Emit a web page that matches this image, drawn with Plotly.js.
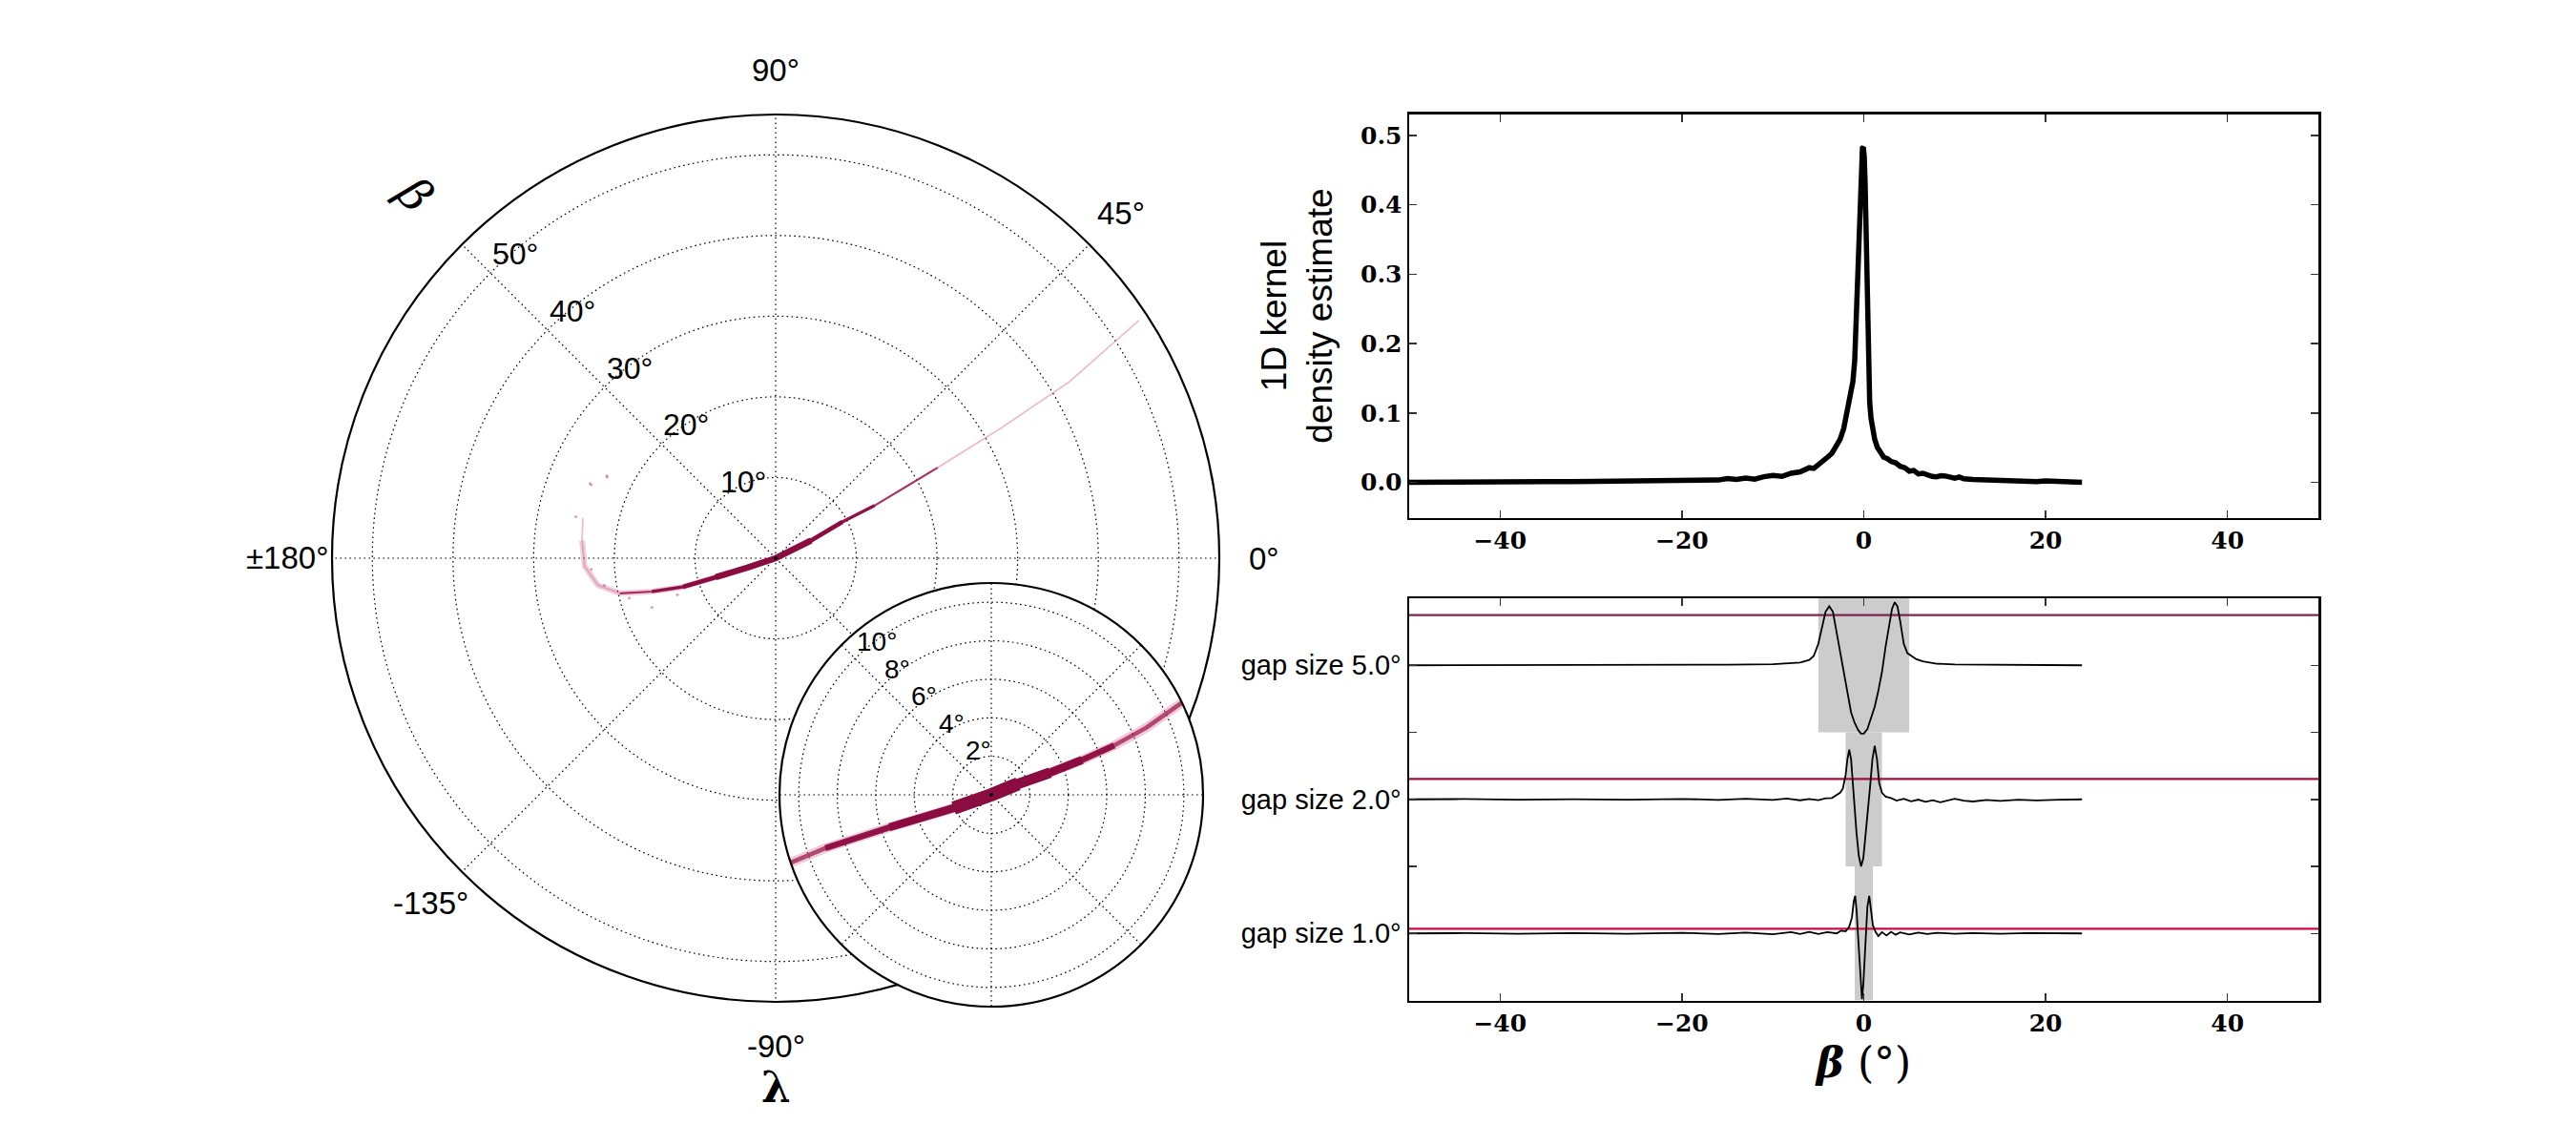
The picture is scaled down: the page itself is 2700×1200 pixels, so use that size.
<!DOCTYPE html>
<html><head><meta charset="utf-8">
<script src="https://cdn.plot.ly/plotly-3.0.1.min.js"></script>
<style>html,body{margin:0;padding:0;background:#fff}</style>
</head><body><div id="chart" style="width:2700px;height:1200px"></div>
<script>
// ---------------- DATA ----------------
// Main polar stream: path of the stream (beta in degrees as radius, lambda as angle)
const mainPathR     = [53.8, 42.5, 32.4, 23.0, 13.9, 9.4, 4.9, 0, 3.7, 7.8, 12.0, 15.9, 19.8, 22.3, 23.7, 24.1, 24.4];
const mainPathTheta = [33.2, 31.0, 30.0, 29.2, 28.0, 28.5, 26.5, 0, -161.6, -162.4, -162.8, -164.9, -167.3, -171.4, -177.6, 174.8, 168.3];
// sparse stray points near the stream tail
const mainDustR     = [24.8, 23.2, 25.3, 22.9, 21.5, 18.8, 16.5, 13.0, 23.3, 24.6];
const mainDustTheta = [158.1, 154.3, 168.3, -176.5, -171.0, -164.8, -158.3, -159.6, 154.0, 158.3];
// Inset (zoomed) polar stream
const insetPathR     = [11.0, 8.77, 6.88, 5.05, 3.26, 1.5, 0, 2.07, 5.55, 9.05, 11.0];
const insetPathTheta = [25.8, 23.4, 21.9, 21.0, 20.7, 22.2, 0, -160.6, -162.3, -162.2, -161.3];

// Polar tick labels
const angLabelVals = [0, 45, 90, 180, -135, -90];
const angLabelText = ['0°', '45°', '90°', '±180°', '-135°', '-90°'];
const angGridVals = [0, 45, 90, 135, 180, 225, 270, 315];
const mainRadTicks = [10, 20, 30, 40, 50];
const insetRadTicks = [2, 4, 6, 8, 10];

// Top-right panel: 1D kernel density estimate
const kdeX = [-50,-47,-44,-41,-38,-35,-32,-29,-27,-25,-23,-21,-20,-19,-18,-17,-16,-15,-14,-13,-12,-11,-10,-9,-8,-7,-6,-5.5,-5,-4.5,-4,-3.5,-3,-2.6,-2.2,-1.9,-1.6,-1.4,-1.2,-1.0,-0.8,-0.6,-0.45,-0.3,-0.15,-0.05,0.05,0.15,0.25,0.35,0.45,0.55,0.65,0.8,1.0,1.2,1.5,1.8,2.2,2.6,3.0,3.5,4.0,4.5,5.0,5.5,6.0,6.5,7.0,7.5,8.0,8.5,9.0,9.5,10,10.5,11,12,13,14,15,16,17,18,19,20,21,22,23,24];
const kdeY = [0.000,0.0005,0.000,0.0008,0.0003,0.001,0.0008,0.0015,0.001,0.0022,0.0015,0.0028,0.002,0.0035,0.0025,0.004,0.0032,0.0055,0.004,0.0062,0.0045,0.008,0.010,0.0085,0.013,0.015,0.021,0.020,0.025,0.029,0.036,0.042,0.052,0.062,0.078,0.098,0.112,0.125,0.145,0.175,0.25,0.35,0.41,0.455,0.482,0.483,0.47,0.43,0.36,0.28,0.20,0.145,0.115,0.092,0.075,0.062,0.050,0.043,0.036,0.034,0.030,0.028,0.023,0.021,0.016,0.017,0.012,0.013,0.010,0.0085,0.008,0.0095,0.009,0.0065,0.006,0.0075,0.005,0.004,0.0035,0.003,0.0022,0.0015,0.0025,0.002,0.001,0.0018,0.001,0.0012,0.0006,0.000];
const kdeTicksY = [0.0, 0.1, 0.2, 0.3, 0.4, 0.5];
const betaTicks = [-40, -20, 0, 20, 40];

// Bottom-right panel: gap curves (stacked levels)
const gapSizes = [5.0, 2.0, 1.0];
const gapBaselines = [2, 1, 0];
const gapThresholds = [2.374, 1.152, 0.035];
const gapThresholdColors = ['#7e2456', '#a10d40', '#d3073f'];
const gap5X = [-50,-40,-30,-20,-15,-10,-8,-7,-6,-5.5,-5,-4.6,-4.2,-3.8,-3.4,-3.0,-2.6,-2.2,-1.8,-1.4,-1.0,-0.6,-0.3,0,0.4,0.8,1.2,1.6,2.0,2.4,2.8,3.1,3.4,3.7,4.0,4.4,4.8,5.2,5.8,6.5,8,10,14,18,24];
const gap5Y = [2.0,2.0,2.002,2.003,2.005,2.008,2.014,2.02,2.04,2.07,2.16,2.28,2.40,2.44,2.40,2.25,2.10,1.93,1.78,1.65,1.57,1.515,1.49,1.49,1.525,1.60,1.69,1.81,1.95,2.14,2.32,2.42,2.47,2.44,2.33,2.16,2.09,2.07,2.045,2.03,2.012,2.006,2.004,2.001,2.0];
const gap2X = [-50,-44,-38,-32,-26,-20,-16,-13,-10,-8.5,-7,-6,-5,-4.2,-3.5,-3.0,-2.6,-2.3,-2.0,-1.8,-1.6,-1.4,-1.2,-1.0,-0.8,-0.55,-0.3,-0.05,0.2,0.45,0.7,0.95,1.2,1.45,1.7,2.0,2.4,3.0,3.6,4.4,5.2,6.0,6.8,7.6,8.4,9.2,10,11,12,13.5,15,17,19,21.5,24];
const gap2Y = [1.0,1.002,0.998,1.001,0.997,1.003,0.996,1.004,0.995,1.006,0.993,1.002,0.994,1.008,1.01,1.03,1.05,1.08,1.18,1.30,1.37,1.30,1.10,0.92,0.75,0.58,0.50,0.56,0.72,0.92,1.10,1.30,1.40,1.30,1.12,1.05,1.02,1.01,0.99,1.004,0.985,0.998,0.982,0.993,0.978,0.99,1.005,0.99,0.984,0.996,0.988,0.997,0.992,0.998,1.0];
const gap1X = [-50,-44,-38,-32,-26,-20,-16,-13,-10,-8,-7,-6,-5,-4,-3,-2.5,-2,-1.6,-1.3,-1.1,-0.95,-0.8,-0.6,-0.45,-0.3,-0.2,-0.05,0.1,0.25,0.4,0.6,0.8,1.0,1.3,1.6,2.0,2.5,3.0,3.5,4.0,5,6,7,8,10,12,15,18,21,24];
const gap1Y = [0.0,0.002,-0.002,0.003,-0.003,0.004,-0.004,0.006,-0.006,0.01,-0.005,0.012,-0.004,0.01,0.0,0.02,0.015,0.05,0.12,0.24,0.28,0.18,-0.05,-0.25,-0.42,-0.49,-0.38,-0.15,0.05,0.2,0.28,0.18,0.06,0.01,-0.02,0.01,-0.015,0.012,-0.01,0.008,-0.008,0.006,-0.004,0.005,-0.003,0.003,-0.002,0.002,-0.001,0.0];

// ---------------- GEOMETRY / STYLE ----------------
const W = 2700, H = 1200;
const MAIN  = {cx: 813,  cy: 585, R: 465, rmax: 55};
const INSET = {cx: 1039, cy: 833, R: 222, rmax: 11};
function dom(g){ return {x:[(g.cx-g.R)/W, (g.cx+g.R)/W], y:[1-(g.cy+g.R)/H, 1-(g.cy-g.R)/H]}; }
function toPaper(g, r, th){ const a = th*Math.PI/180, pr = r/g.rmax*g.R;
  return {x:(g.cx+pr*Math.cos(a))/W, y:1-(g.cy-pr*Math.sin(a))/H}; }
const gridDash = '1.6px,3.4px';
function polarLayout(g, rticks){
  return {
    domain: dom(g), bgcolor:'#ffffff', hole:0,
    radialaxis:{range:[0,g.rmax], tickmode:'array', tickvals:rticks, showticklabels:false, ticks:'',
      showline:false, gridcolor:'#000', griddash:gridDash, gridwidth:1.2},
    angularaxis:{tickmode:'array', tickvals:angGridVals, showticklabels:false, ticks:'', rotation:0,
      direction:'counterclockwise', showline:true, linecolor:'#000', linewidth:2.2,
      gridcolor:'#000', griddash:gridDash, gridwidth:1.2}
  };
}
const streamDark = '#8a0c40';
const traces = [];
function polarLine(sub, r, th, color, width){
  traces.push({type:'scatterpolar', subplot:sub, mode:'lines', r:r, theta:th, cliponaxis:true,
    line:{color:color, width:width}, hoverinfo:'skip'});
}
// main polar stream (layered widths to mimic the density of the point cloud)
polarLine('polar', mainPathR, mainPathTheta, 'rgba(210,110,150,0.45)', 1.8);
polarLine('polar', mainPathR.slice(9,16), mainPathTheta.slice(9,16), 'rgba(205,95,140,0.3)', 6);
traces.push({type:'scatterpolar', subplot:'polar', mode:'markers', r:mainDustR, theta:mainDustTheta,
  marker:{color:'rgba(200,80,125,0.55)', size:3}, hoverinfo:'skip'});
polarLine('polar', mainPathR.slice(3,13), mainPathTheta.slice(3,13), 'rgba(150,20,70,0.8)', 2.2);
polarLine('polar', mainPathR.slice(4,12), mainPathTheta.slice(4,12), 'rgba(140,12,65,0.9)', 3.4);
polarLine('polar', mainPathR.slice(5,11), mainPathTheta.slice(5,11), streamDark, 4.6);
polarLine('polar', mainPathR.slice(6,10), mainPathTheta.slice(6,10), streamDark, 6.5);
traces.push({type:'scatterpolar', subplot:'polar', mode:'markers', r:[0], theta:[0],
  marker:{color:'#000', size:4}, hoverinfo:'skip'});
// inset polar stream
polarLine('polar2', insetPathR, insetPathTheta, 'rgba(205,95,140,0.32)', 10);
polarLine('polar2', insetPathR, insetPathTheta, 'rgba(160,25,75,0.75)', 4.5);
polarLine('polar2', insetPathR.slice(2,10), insetPathTheta.slice(2,10), 'rgba(140,12,65,0.9)', 6.5);
polarLine('polar2', insetPathR.slice(3,9), insetPathTheta.slice(3,9), streamDark, 8.5);
polarLine('polar2', insetPathR.slice(4,8), insetPathTheta.slice(4,8), streamDark, 11);
polarLine('polar2', insetPathR.slice(5,8), insetPathTheta.slice(5,8), streamDark, 14);
traces.push({type:'scatterpolar', subplot:'polar2', mode:'markers', r:[0], theta:[0],
  marker:{color:'#000', size:4}, hoverinfo:'skip'});
// KDE panel
traces.push({type:'scatter', x:kdeX, y:kdeY, xaxis:'x', yaxis:'y', mode:'lines',
  line:{color:'#000', width:5.5}, hoverinfo:'skip'});
// gap panel
gapThresholds.forEach((lv,i)=>{
  traces.push({type:'scatter', x:[-50,50], y:[lv,lv], xaxis:'x2', yaxis:'y2', mode:'lines',
    line:{color:gapThresholdColors[i], width:2.2}, hoverinfo:'skip'});
});
[[gap5X,gap5Y],[gap2X,gap2Y],[gap1X,gap1Y]].forEach(c=>{
  traces.push({type:'scatter', x:c[0], y:c[1], xaxis:'x2', yaxis:'y2', mode:'lines',
    line:{color:'#000', width:1.8}, hoverinfo:'skip'});
});

// annotations for polar tick labels and axis symbols
const annotations = [];
const sansFont = 'Liberation Sans, Arial, sans-serif';
angLabelVals.forEach((t,i)=>{
  const p = toPaper(MAIN, 1.1*MAIN.rmax, t);
  annotations.push({xref:'paper', yref:'paper', x:p.x, y:p.y, xanchor:'center', yanchor:'middle',
    text:angLabelText[i], showarrow:false, font:{family:sansFont, size:33, color:'#000'}});
});
mainRadTicks.forEach(v=>{
  const p = toPaper(MAIN, v, 135);
  annotations.push({xref:'paper', yref:'paper', x:p.x, y:p.y, xanchor:'left', yanchor:'bottom',
    text:v+'°', showarrow:false, font:{family:sansFont, size:32, color:'#000'}});
});
insetRadTicks.forEach(v=>{
  const p = toPaper(INSET, v, 135);
  annotations.push({xref:'paper', yref:'paper', x:p.x, y:p.y, xanchor:'left', yanchor:'bottom',
    text:v+'°', showarrow:false, font:{family:sansFont, size:28, color:'#000'}});
});
annotations.push({xref:'paper', yref:'paper', x:435/W, y:1-203/H, xanchor:'center', yanchor:'middle',
  text:'<i>β</i>', textangle:48, showarrow:false, font:{family:'DejaVu Serif', size:48, color:'#000'}});
annotations.push({xref:'paper', yref:'paper', x:813/W, y:1-1139/H, xanchor:'center', yanchor:'middle',
  text:'<b>λ</b>', showarrow:false, font:{family:'DejaVu Serif', size:44, color:'#000'}});

const serifTick = {family:'DejaVu Serif', size:25, color:'#000', weight:'bold'};
const axisCommon = {showline:true, linecolor:'#000', linewidth:2.5, mirror:'ticks', ticks:'inside',
  ticklen:8, tickwidth:1.5, tickcolor:'#333', zeroline:false, showgrid:false};
const xDom = [1477/W, 2430/W];
const layout = {
  width:W, height:H, margin:{l:0, r:0, t:0, b:0}, paper_bgcolor:'#fff', plot_bgcolor:'#fff',
  showlegend:false, font:{family:sansFont, color:'#000'},
  polar: polarLayout(MAIN, mainRadTicks),
  polar2: polarLayout(INSET, insetRadTicks),
  xaxis: Object.assign({}, axisCommon, {domain:xDom, anchor:'y', range:[-50,50], tickmode:'array',
    tickvals:betaTicks, tickfont:serifTick}),
  yaxis: Object.assign({}, axisCommon, {domain:[1-542.5/H, 1-119.5/H], anchor:'x', range:[-0.051,0.531],
    tickmode:'array', tickvals:kdeTicksY, tickformat:'.1f', tickfont:serifTick,
    title:{text:'1D kernel<br>density estimate', font:{family:sansFont, size:37, color:'#000'}, standoff:18}}),
  xaxis2: Object.assign({}, axisCommon, {domain:xDom, anchor:'y2', range:[-50,50], tickmode:'array',
    tickvals:betaTicks, tickfont:serifTick,
    title:{text:'<b><i>β</i></b> (°)', font:{family:'DejaVu Serif', size:44, color:'#000'}, standoff:12}}),
  yaxis2: Object.assign({}, axisCommon, {domain:[1-1048.5/H, 1-627/H], anchor:'x2', range:[-0.5,2.5],
    tickmode:'array', tickvals:[0,0.5,1,1.5,2],
    ticktext:['gap size '+gapSizes[2].toFixed(1)+'°','','gap size '+gapSizes[1].toFixed(1)+'°','','gap size '+gapSizes[0].toFixed(1)+'°'],
    tickfont:{family:sansFont, size:29, color:'#000'}}),
  shapes: gapSizes.map((g,i)=>({type:'rect', xref:'x2', yref:'y2', x0:-g, x1:g,
    y0:gapBaselines[i]-0.5, y1:gapBaselines[i]+0.5, fillcolor:'#cccccc', line:{width:0}, layer:'below'})),
  annotations: annotations
};
Plotly.newPlot('chart', traces, layout, {staticPlot:true, displayModeBar:false});
</script></body></html>
